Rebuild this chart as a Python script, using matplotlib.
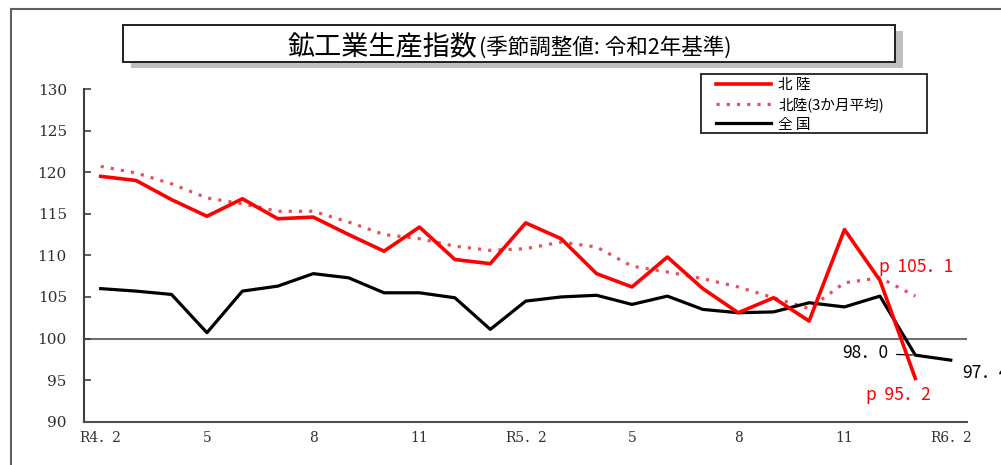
import matplotlib
matplotlib.use("Agg")
import matplotlib.pyplot as plt
from matplotlib.lines import Line2D
from matplotlib.patches import Rectangle

W, H = 1001, 465

# x軸: R4.2 ～ R6.2 (月次)
tick_pos = [0, 3, 6, 9, 12, 15, 18, 21, 24]
tick_labels = ["R4．2", "5", "8", "11", "R5．2", "5", "8", "11", "R6．2"]

# 北陸 (R4.2 ～ R6.1)
hokuriku = [119.5, 119.0, 116.7, 114.7, 116.8, 114.4, 114.6, 112.5, 110.5, 113.4,
            109.5, 109.0, 113.9, 112.0, 107.8, 106.2, 109.8, 106.0, 103.1, 104.9,
            102.1, 113.1, 107.0, 95.2]
# 北陸 3か月平均
hokuriku_3m = [120.7, 119.9, 118.6, 116.9, 116.2, 115.3, 115.3, 114.0, 112.5, 112.0,
               111.1, 110.6, 110.8, 111.6, 111.0, 108.7, 108.0, 107.2, 106.2, 104.9,
               103.6, 106.7, 107.3, 105.1]
# 全国 (R4.2 ～ R6.2)
zenkoku = [106.0, 105.7, 105.3, 100.7, 105.7, 106.3, 107.8, 107.3, 105.5, 105.5,
           104.9, 101.1, 104.5, 105.0, 105.2, 104.1, 105.1, 103.5, 103.1, 103.2,
           104.3, 103.8, 105.1, 98.0, 97.4]

series_names = ["北 陸", "北陸(3か月平均)", "全 国"]

jp = ["Noto Sans CJK JP", "DejaVu Sans"]
serif = ["DejaVu Serif", "Noto Sans CJK JP"]
plt.rcParams["font.family"] = jp

st_h = dict(color="#ff0000", lw=2.6)
st_3m = dict(color="#e8505c", lw=2.3, linestyle=(0, (1, 2.2)))
st_z = dict(color="black", lw=2.3)


def fx(x):
    return x / W


def fy(y):
    return 1 - y / H


fig = plt.figure(figsize=(W / 100, H / 100), dpi=100)

# 外枠
fig.add_artist(Line2D([fx(11), 1], [fy(9.5), fy(9.5)], color="#606060", lw=1.5))
fig.add_artist(Line2D([fx(11), fx(11)], [fy(9.5), 0], color="#606060", lw=1.5))

# タイトル枠 (影付き)
fig.add_artist(Rectangle((fx(131), fy(68)), fx(895 - 123), (62 - 25) / H,
                         facecolor="#c0c0c0", edgecolor="none"))
fig.add_artist(Rectangle((fx(123), fy(62)), fx(895 - 123), (62 - 25) / H,
                         facecolor="white", edgecolor="#202020", lw=1.4))
fig.text(fx(477), fy(44), "鉱工業生産指数", fontsize=19.5, ha="right",
         va="center_baseline", family=jp)
fig.text(fx(479), fy(45), "(季節調整値: 令和2年基準)", fontsize=15.5, ha="left",
         va="center_baseline", family=jp)

ax = fig.add_axes([fx(83.5), fy(421.7), fx(966.7 - 83.5), (421.7 - 89) / H])

x_h = list(range(len(hokuriku)))
x_z = list(range(len(zenkoku)))

ax.axhline(100, color="#707070", lw=1.5, zorder=1)
ax.plot(x_h, hokuriku_3m, zorder=2, **st_3m)
ax.plot(x_z, zenkoku, zorder=3, **st_z)
ax.plot(x_h, hokuriku, zorder=4, **st_h)

ax.set_xlim(-0.485, 24.45)
ax.set_ylim(90, 130)
ax.set_yticks(range(90, 131, 5))
ax.set_xticks(tick_pos)
ax.set_xticklabels(tick_labels, family=serif, fontsize=10, color="#303030")
for lab in ax.get_yticklabels():
    lab.set_family(serif)
    lab.set_fontsize(11)
    lab.set_color("#303030")
ax.tick_params(axis="y", direction="in", length=5, width=1.2, color="#404040", pad=12)
ax.tick_params(axis="x", length=0, pad=7)
for s in ("top", "right"):
    ax.spines[s].set_visible(False)
ax.spines["left"].set_color("#404040")
ax.spines["left"].set_linewidth(1.5)
ax.spines["bottom"].set_color("#505050")
ax.spines["bottom"].set_linewidth(1.5)

# 数値ラベル
lab_fs = 12.5
ax.annotate("p  105．1", xy=(23, hokuriku_3m[-1]), xytext=(-26.5, 21),
            textcoords="offset points", ha="left", va="center",
            color="#ff0000", fontsize=lab_fs)
ax.annotate("p  95．2", xy=(23, hokuriku[-1]), xytext=(-35.5, -12),
            textcoords="offset points", ha="left", va="center",
            color="#ff0000", fontsize=lab_fs)
ax.annotate("98．0", xy=(23, zenkoku[-2]), xytext=(-19.5, 1.4),
            textcoords="offset points", ha="right", va="center",
            color="black", fontsize=lab_fs,
            arrowprops=dict(arrowstyle="-", color="black", lw=0.9,
                            shrinkA=4, shrinkB=2))
ax.annotate("97．4", xy=(24, zenkoku[-1]), xytext=(8, -9.4),
            textcoords="offset points", ha="left", va="center",
            color="black", fontsize=lab_fs, annotation_clip=False)

# 凡例 (手描き)
fig.add_artist(Rectangle((fx(701), fy(133)), fx(927 - 701), (133 - 74) / H,
                         facecolor="white", edgecolor="#202020", lw=1.3))
for yy, name, st in zip([84, 103.5, 123], series_names, [st_h, st_3m, st_z]):
    fig.add_artist(Line2D([fx(716), fx(771)], [fy(yy), fy(yy)], **st))
    fig.text(fx(778), fy(yy), name, fontsize=10.5, ha="left", va="center_baseline")

fig.savefig("out.png", dpi=100)
